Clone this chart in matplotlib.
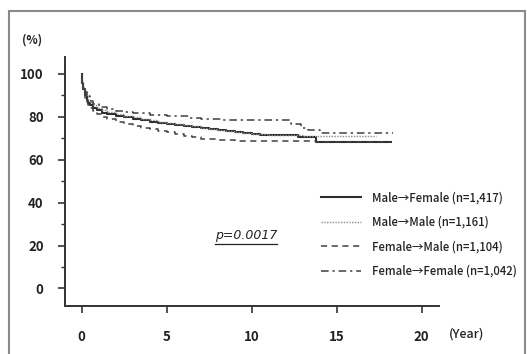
import matplotlib
matplotlib.use("Agg")
import matplotlib.pyplot as plt
from matplotlib.patches import Rectangle
from matplotlib.lines import Line2D

plt.rcParams['font.family'] = ['Noto Sans CJK JP', 'DejaVu Sans']

# ---- data ----
labels = ["Male\u2192Female (n=1,417)", "Male\u2192Male (n=1,161)",
          "Female\u2192Male (n=1,104)", "Female\u2192Female (n=1,042)"]

mf_t = [0, 0.05, 0.1, 0.2, 0.3, 0.4, 0.5, 0.7, 0.9, 1.2, 1.5, 2.0, 2.5, 3.0, 3.5, 4.0, 4.5, 5.0,
        5.5, 6.0, 6.5, 7.0, 7.5, 8.0, 8.5, 9.0, 9.5, 10.0, 10.5, 11.0, 12.7, 13.8, 18.2]
mf_v = [100, 96, 93, 90, 88, 86.5, 85.3, 84, 83, 82, 81.3, 80.5, 79.7, 79, 78.3, 77.8, 77.3, 76.8,
        76.2, 75.7, 75.2, 74.8, 74.3, 73.8, 73.4, 73, 72.5, 72, 71.7, 71.4, 70.4, 68.4, 68.4]

mm_t = [0, 0.05, 0.1, 0.2, 0.3, 0.4, 0.5, 0.7, 0.9, 1.2, 1.5, 2.0, 2.5, 3.0, 3.5, 4.0, 4.5, 5.0,
        5.5, 6.0, 6.5, 7.0, 7.5, 8.0, 8.5, 9.0, 9.5, 10.0, 10.5, 11.0, 12.0, 13.0, 17.3]
mm_v = [100, 96.5, 94, 91.5, 89.5, 88, 87, 85.5, 84.3, 83.2, 82.3, 81.5, 80.6, 79.8, 79, 78.4, 77.8, 77.2,
        76.6, 76, 75.5, 75, 74.5, 74, 73.5, 73, 72.6, 72.2, 71.9, 71.6, 71.3, 71.0, 71.0]

fm_t = [0, 0.05, 0.1, 0.2, 0.3, 0.4, 0.5, 0.7, 0.9, 1.2, 1.5, 2.0, 2.5, 3.0, 3.5, 4.0, 4.5, 5.0,
        5.5, 6.0, 6.5, 7.0, 8.0, 9.0, 13.8, 18.2]
fm_v = [100, 95.5, 92, 89, 87, 85.5, 84, 82.5, 81.3, 80, 79, 77.7, 76.5, 75.5, 74.8, 74.2, 73.5, 72.8,
        72, 71.2, 70.5, 69.8, 69.3, 68.9, 68.2, 68.2]

ff_t = [0, 0.05, 0.1, 0.2, 0.3, 0.5, 0.7, 1.0, 1.5, 2.0, 2.5, 3.0, 4.0, 5.0, 6.3, 7.0, 8.3, 12.3,
        12.9, 13.3, 14.0, 18.3]
ff_v = [100, 96.5, 94, 91.5, 89.5, 87.3, 85.8, 84.5, 83.5, 82.8, 82.2, 81.6, 81.0, 80.4, 79.4, 79.0, 78.3,
        76.8, 75.0, 74.0, 72.6, 72.6]

x_ticks = [0, 5, 10, 15, 20]
y_ticks = [0, 20, 40, 60, 80, 100]
p_text = "p=0.0017"

W, H = 527, 354
fig = plt.figure(figsize=(W / 100, H / 100), dpi=100)
ax = fig.add_axes([64.5 / W, 1 - 306 / H, (438.7 - 64.5) / W, (306 - 57) / H])

series = [(mf_t, mf_v, dict(color="#2e2e2e", lw=1.5, ls="-")),
          (mm_t, mm_v, dict(color="#8c8c8c", lw=1.0, ls=(0, (1, 1)))),
          (fm_t, fm_v, dict(color="#404040", lw=1.1, ls=(0, (4, 3)))),
          (ff_t, ff_v, dict(color="#404040", lw=1.1, ls=(0, (5, 2.5, 1.5, 2.5))))]
for (t, v, st), lab in zip(series, labels):
    ax.plot(t, v, drawstyle="steps-post", label=lab, **st)

ax.set_xlim(-1.0, 21.0)
ax.set_ylim(-8.2, 107.9)
for s in ["top", "right"]:
    ax.spines[s].set_visible(False)
for s in ["left", "bottom"]:
    ax.spines[s].set_color("#333333")
    ax.spines[s].set_linewidth(1.4)

ax.set_xticks(x_ticks)
ax.set_yticks(y_ticks)
ax.set_yticks([10, 30, 50, 70, 90], minor=True)
ax.tick_params(axis="both", which="major", direction="out", length=5, width=1.2,
               colors="#333333", labelsize=9.5, labelcolor="#222222")
ax.tick_params(axis="y", which="minor", direction="out", length=3, width=1.0, colors="#333333")
ax.tick_params(axis="x", pad=12)
ax.tick_params(axis="y", pad=10)
for lab in ax.get_xticklabels() + ax.get_yticklabels():
    lab.set_fontweight("bold")

leg = ax.legend(loc="upper left", bbox_to_anchor=(321 / W, 1 - 191 / H),
                bbox_transform=fig.transFigure, frameon=False,
                prop=dict(size=8.2, weight="medium"),
                handlelength=3.5, handletextpad=1.0, labelspacing=1.02,
                borderpad=0, borderaxespad=0)
for t in leg.get_texts():
    t.set_color("#222222")

fig.text(32 / W, 1 - 40 / H, "(%)", ha="center", va="center", fontsize=8.5,
         fontweight="bold", color="#222222")
fig.text(467 / W, 1 - 334 / H, "(Year)", ha="center", va="center", fontsize=9,
         fontweight="medium", color="#222222")

pt = fig.text(246 / W, 1 - 236 / H, p_text, ha="center", va="center", fontsize=9,
              style="italic", family="DejaVu Sans", color="#222222")
fig.canvas.draw()
bb = pt.get_window_extent(renderer=fig.canvas.get_renderer())
fig.add_artist(Line2D([bb.x0 / W, bb.x1 / W], [(bb.y0 - 1) / H, (bb.y0 - 1) / H],
                      transform=fig.transFigure, color="#222222", lw=0.9))

fig.add_artist(Rectangle((9 / W, -0.02), (525 - 9) / W, 1.02 - 11 / H, transform=fig.transFigure,
                         fill=False, edgecolor="#8a8a8a", lw=1.5))

fig.savefig("out.png", dpi=100, facecolor="white")
